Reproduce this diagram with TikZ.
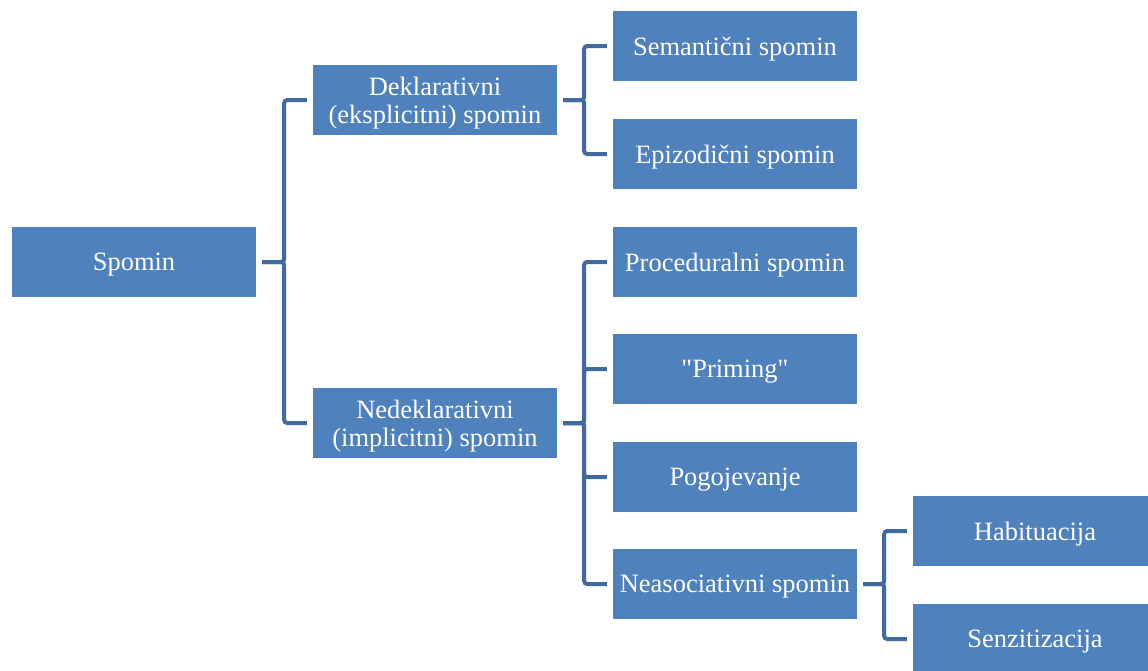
\documentclass[tikz,border=0pt]{standalone}
\usepackage{fontspec}
\setmainfont{Liberation Serif}
\definecolor{boxblue}{RGB}{79,129,189}
\definecolor{lineblue}{RGB}{65,106,160}

\begin{document}
\begin{tikzpicture}[x=1pt, y=-1pt,
  main/.style = {fill=boxblue, text=white, minimum width=244, minimum height=70, inner sep=0pt, text depth=0pt, align=center, font=\fontsize{26.5}{28}\selectfont},
  conn/.style = {draw=lineblue, line width=4pt, rounded corners=3pt, shorten <=6pt, shorten >=6pt}]
\useasboundingbox (0,0) rectangle (1148,670);
\clip (0,0) rectangle (1148,670);
\node[main] (1) at (134,262) {Spomin};
\node[main] (2) at (435,100) {Deklarativni\\(eksplicitni) spomin};
\node[main] (3) at (435,423) {Nedeklarativni\\(implicitni) spomin};
\node[main] (4) at (735,46) {Semantični spomin};
\node[main] (5) at (735,154) {Epizodični spomin};
\node[main] (6) at (735,262) {Proceduralni spomin};
\node[main] (7) at (735,369) {\textquotedbl Priming\textquotedbl};
\node[main] (8) at (735,477) {Pogojevanje};
\node[main] (9) at (735,584) {Neasociativni spomin};
\node[main] (10) at (1035,531) {Habituacija};
\node[main] (11) at (1035,639) {Senzitizacija};
\draw[conn] (1.east) -- ++(28,0) |- (2.west);
\draw[conn] (1.east) -- ++(28,0) |- (3.west);
\draw[conn] (2.east) -- ++(27,0) |- (4.west);
\draw[conn] (2.east) -- ++(27,0) |- (5.west);
\draw[conn] (3.east) -- ++(27,0) |- (6.west);
\draw[conn] (3.east) -- ++(27,0) |- (7.west);
\draw[conn] (3.east) -- ++(27,0) |- (8.west);
\draw[conn] (3.east) -- ++(27,0) |- (9.west);
\draw[conn] (9.east) -- ++(27,0) |- (10.west);
\draw[conn] (9.east) -- ++(27,0) |- (11.west);
\end{tikzpicture}
\end{document}
